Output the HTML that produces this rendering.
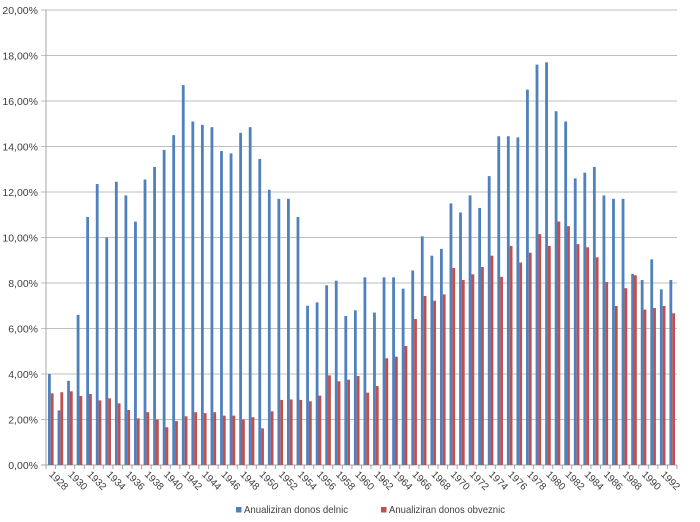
<!DOCTYPE html>
<html><head><meta charset="utf-8"><style>
html,body{margin:0;padding:0;background:#fff;}
svg{display:block;font-family:"Liberation Sans",sans-serif;}
</style></head><body>
<svg id="c" width="700" height="522" viewBox="0 0 700 522" xmlns="http://www.w3.org/2000/svg"></svg>
<script>
const B=[4.0,2.4,3.7,6.6,10.9,12.35,10.0,12.45,11.85,10.7,12.55,13.1,13.85,14.5,16.7,15.1,14.95,14.85,13.8,13.7,14.6,14.85,13.45,12.1,11.7,11.7,10.9,7.0,7.15,7.9,8.1,6.55,6.8,8.25,6.7,8.25,8.25,7.75,8.55,10.05,9.2,9.5,11.5,11.1,11.85,11.3,12.7,14.45,14.45,14.4,16.5,17.6,17.7,15.55,15.1,12.6,12.85,13.1,11.85,11.7,11.7,8.4,8.13,9.04,7.72,8.13];
const R=[3.15,3.2,3.24,3.03,3.12,2.84,2.93,2.71,2.42,2.05,2.32,2.0,1.66,1.93,2.14,2.32,2.28,2.32,2.17,2.17,2.0,2.1,1.61,2.36,2.86,2.88,2.86,2.8,3.05,3.94,3.68,3.75,3.91,3.18,3.47,4.69,4.76,5.23,6.42,7.43,7.22,7.5,8.66,8.13,8.38,8.7,9.2,8.27,9.63,8.9,9.33,10.15,9.63,10.7,10.5,9.71,9.57,9.13,8.04,6.99,7.77,8.34,6.83,6.9,6.99,6.67];
const x0=46,x1=677,y0=465,ppp=22.75,n=66,w=(x1-x0)/n;
let s='';
for(let i=0;i<=10;i++){const y=y0-i*2*ppp;
 s+=`<line x1="41" x2="${x1}" y1="${y}" y2="${y}" stroke="${i==0?'#a6a6a6':'#bfbfbf'}" stroke-width="1"/>`;
 s+=`<text x="38" y="${y+4}" font-size="10.5" fill="#404040" text-anchor="end">${(i*2)},00%</text>`;}
s+=`<line x1="${x0}" x2="${x0}" y1="10" y2="${y0}" stroke="#a6a6a6"/>`;
for(let i=0;i<n;i++){const c=x0+i*w;
 const hb=B[i]*ppp,hr=R[i]*ppp;
 s+=`<rect x="${c+2}" y="${y0-hb}" width="2.8" height="${hb}" fill="#4f81bd"/>`;
 s+=`<rect x="${c+4.8}" y="${y0-hr}" width="2.8" height="${hr}" fill="#c0504d"/>`;
 s+=`<line x1="${c}" x2="${c}" y1="${y0}" y2="${y0+4}" stroke="#a6a6a6"/>`;
 if(i%2==0){const lx=c+2.5,ly=475;
  s+=`<text x="${lx}" y="${ly}" font-size="10" fill="#404040" transform="rotate(45 ${lx} ${ly})">${1928+i}</text>`;}
}
s+=`<line x1="${x1}" x2="${x1}" y1="${y0}" y2="${y0+4}" stroke="#a6a6a6"/>`;
s+=`<rect x="236" y="507" width="5.5" height="5.5" fill="#4f81bd"/><text x="244" y="513" font-size="10.5" fill="#404040" textLength="104" lengthAdjust="spacingAndGlyphs">Anualiziran donos delnic</text>`;
s+=`<rect x="381" y="507" width="5.5" height="5.5" fill="#c0504d"/><text x="389" y="513" font-size="10.5" fill="#404040" textLength="116" lengthAdjust="spacingAndGlyphs">Anualiziran donos obveznic</text>`;
document.getElementById('c').innerHTML=s;
</script>
</body></html>
